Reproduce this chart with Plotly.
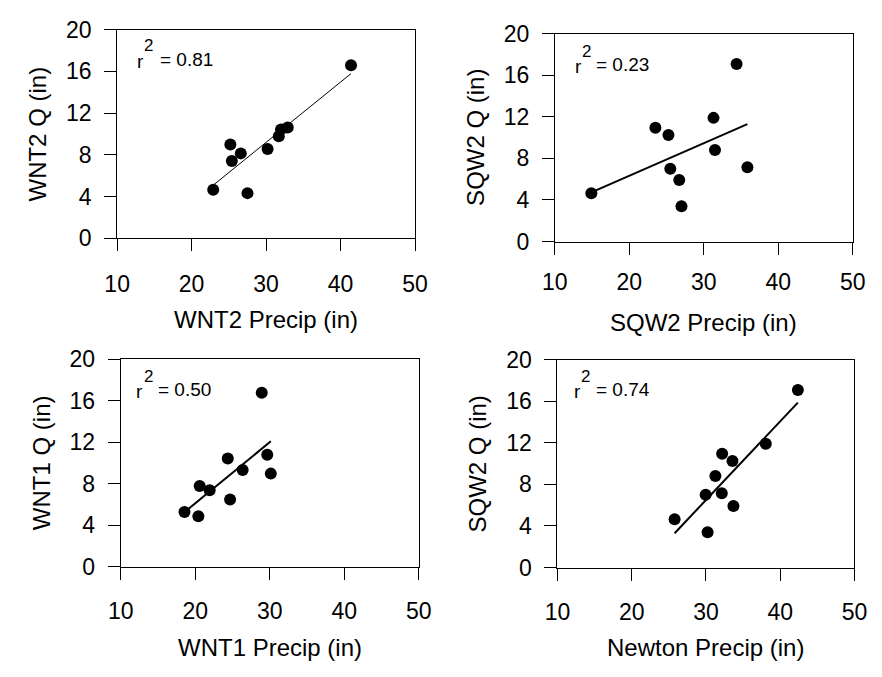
import numpy as np
import plotly.graph_objects as go

W, H = 882, 677

# ---- data ----
wnt2_precip = [22.9, 25.2, 25.4, 26.6, 27.5, 30.2, 31.7, 32.0, 32.9, 41.4]
wnt2_q = [4.66, 9.0, 7.4, 8.14, 4.33, 8.57, 9.77, 10.44, 10.63, 16.59]

sqw2_precip = [14.9, 23.5, 25.25, 25.5, 26.7, 27.0, 31.3, 31.5, 34.4, 35.85]
sqw2_q = [4.65, 10.95, 10.25, 7.01, 5.92, 3.40, 11.90, 8.80, 17.08, 7.15]

wnt1_precip = [18.56, 20.42, 20.6, 21.94, 24.37, 24.68, 26.37, 28.93, 29.67, 30.15]
wnt1_q = [5.28, 4.88, 7.78, 7.38, 10.43, 6.48, 9.32, 16.76, 10.8, 8.98]

newton_precip = [25.78, 29.96, 30.22, 31.27, 32.13, 32.18, 33.57, 33.7, 38.06, 42.38]
newton_sqw2_q = [4.65, 7.01, 3.40, 8.80, 7.15, 10.95, 10.25, 5.92, 11.90, 17.08]

r2_labels = ["0.81", "0.23", "0.50", "0.74"]
x_titles = ["WNT2 Precip (in)", "SQW2 Precip (in)", "WNT1 Precip (in)", "Newton Precip (in)"]
y_titles = ["WNT2 Q (in)", "SQW2 Q (in)", "WNT1 Q (in)", "SQW2 Q (in)"]
x_ticks = [10, 20, 30, 40, 50]
y_ticks = [0, 4, 8, 12, 16, 20]

panels_x = [wnt2_precip, sqw2_precip, wnt1_precip, newton_precip]
panels_y = [wnt2_q, sqw2_q, wnt1_q, newton_sqw2_q]

# ---- layout geometry (pixels: left, right, top, bottom of plot area) ----
boxes = [
    (107.3, 414.3, 17.3, 234.3),
    (558.3, 865.3, 21.5, 237.7),
    (111.0, 418.0, 360.0, 576.0),
    (561.0, 867.0, 360.5, 576.7),
]
line_widths = [1.0, 2.0, 2.0, 2.0]
x_standoff = [13, 8, 12, 12]
x_title_off = [84, 84, 84, 83]
# r^2 label offsets (px from panel left / top): r left, "=" left, digit centre
r_left = [19.4, 19.4, 15.0, 15.7]
eq_left = [42.7, 41.7, 37.3, 38.3]
txt_mid = [30.7, 32.2, 32.0, 31.5]

FONT = "Liberation Sans, Arial, sans-serif"
TICK_SIZE = 23
TITLE_SIZE = 24
ANN_SIZE = 19
SUP_SIZE = 17


def px_x(v):
    return v / W


def px_y(v):
    return 1 - v / H


fig = go.Figure()
annotations = []

for i in range(4):
    xs = np.array(panels_x[i], dtype=float)
    ys = np.array(panels_y[i], dtype=float)
    ax = "" if i == 0 else str(i + 1)
    xref, yref = "x" + ax, "y" + ax

    fig.add_trace(go.Scatter(
        x=xs, y=ys, mode="markers", xaxis=xref, yaxis=yref,
        marker=dict(size=12, color="black"), showlegend=False,
        hoverinfo="x+y"))

    slope, intercept = np.polyfit(xs, ys, 1)
    lx = np.array([xs.min(), xs.max()])
    fig.add_trace(go.Scatter(
        x=lx, y=slope * lx + intercept, mode="lines", xaxis=xref, yaxis=yref,
        line=dict(color="black", width=line_widths[i]), showlegend=False,
        hoverinfo="skip"))

    l, r, t, b = boxes[i]
    axis_common = dict(
        showline=True, linecolor="black", linewidth=1, mirror=True,
        ticks="outside", ticklen=12, tickwidth=1, tickcolor="black",
        showgrid=False, zeroline=False,
        tickfont=dict(family=FONT, size=TICK_SIZE, color="black"),
    )
    fig.layout["xaxis" + ax] = dict(
        axis_common, domain=[px_x(l), px_x(r)], range=[10, 50],
        tickvals=x_ticks, anchor=yref, ticklabelstandoff=x_standoff[i])
    fig.layout["yaxis" + ax] = dict(
        axis_common, domain=[px_y(b), px_y(t)], range=[0, 20],
        tickvals=y_ticks, anchor=xref, ticklabelstandoff=8)

    # x axis title
    annotations.append(dict(
        text=x_titles[i], xref="paper", yref="paper",
        x=px_x((l + r) / 2), y=px_y(b + x_title_off[i]), xanchor="center", yanchor="middle",
        showarrow=False, font=dict(family=FONT, size=TITLE_SIZE, color="black")))
    # y axis title
    annotations.append(dict(
        text=y_titles[i], xref="paper", yref="paper", textangle=-90,
        x=px_x(l - 82), y=px_y((t + b) / 2), xanchor="center", yanchor="middle",
        showarrow=False, font=dict(family=FONT, size=TITLE_SIZE, color="black")))
    # r^2 label: "r", superscript "2", "= value"
    annotations.append(dict(
        text="r", xref="paper", yref="paper",
        x=px_x(l + r_left[i] - 1), y=px_y(t + txt_mid[i] + 2), xanchor="left", yanchor="middle",
        showarrow=False, font=dict(family=FONT, size=ANN_SIZE, color="black")))
    annotations.append(dict(
        text="2", xref="paper", yref="paper",
        x=px_x(l + r_left[i] + 6.5), y=px_y(t + txt_mid[i] - 14), xanchor="left", yanchor="middle",
        showarrow=False, font=dict(family=FONT, size=SUP_SIZE, color="black")))
    annotations.append(dict(
        text="= " + r2_labels[i], xref="paper", yref="paper",
        x=px_x(l + eq_left[i] - 1), y=px_y(t + txt_mid[i]), xanchor="left", yanchor="middle",
        showarrow=False, font=dict(family=FONT, size=ANN_SIZE, color="black")))

fig.update_layout(
    width=W, height=H, margin=dict(l=0, r=0, t=0, b=0),
    paper_bgcolor="white", plot_bgcolor="white",
    showlegend=False, annotations=annotations,
    font=dict(family=FONT, color="black"),
)

fig.write_html("out.html")
